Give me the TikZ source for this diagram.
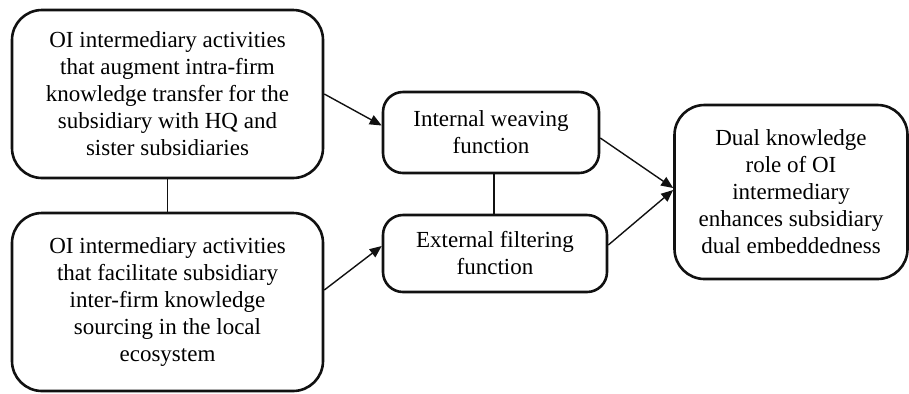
\documentclass[tikz,border=0pt]{standalone}
\usepackage{fontspec}
\setmainfont{Liberation Serif}
\usetikzlibrary{arrows.meta,positioning,calc}
\definecolor{edge}{HTML}{111111}

\begin{document}
\begin{tikzpicture}[x=0.5pt,y=-0.5pt,
    box/.style={draw=edge,line width=1.3pt,rounded corners=15pt,align=center,
      font=\fontsize{11.5pt}{13.5pt}\selectfont,inner sep=0pt},
    link/.style={edge,line width=0.7pt,-{Triangle[length=6pt,width=5pt]}}]
  \useasboundingbox (0,0) rectangle (909,393);

  % Activity boxes
  \node[box,minimum width=155.5pt,minimum height=84pt] (augment) at (167.5,94)
    {OI intermediary activities\\that augment intra-firm\\knowledge transfer for the\\subsidiary with HQ and\\sister subsidiaries};
  \node[box,minimum width=155.5pt,minimum height=89pt] (facilitate) at (167.5,302)
    {OI intermediary activities\\that facilitate subsidiary\\inter-firm knowledge\\sourcing in the local\\ecosystem};

  % Functions
  \node[box,rounded corners=10pt,minimum width=108pt,minimum height=40.5pt] (weaving) at (491,132.5)
    {Internal weaving\\function};
  \node[box,rounded corners=10pt,minimum width=112pt,minimum height=38.5pt] (filtering) at (495,253.5)
    {External filtering\\function};

  % Outcome
  \node[box,minimum width=116.5pt,minimum height=87pt] (dual) at (791,192)
    {Dual knowledge\\role of OI\\intermediary\\enhances subsidiary\\dual embeddedness};

  % Connections
  \draw[edge,line width=0.9pt] (augment.south) -- (facilitate.north);
  \draw[edge,line width=0.9pt] ([xshift=1.5pt]weaving.south) -- ([xshift=1.5pt]weaving.south |- filtering.north);
  \draw[link] (augment.east) -- ([yshift=3.5pt]weaving.west);
  \draw[link] ([yshift=6pt]facilitate.east) -- ([yshift=3.75pt]filtering.west);
  \draw[link] ([yshift=-2.75pt]weaving.east) -- ([yshift=2pt]dual.west);
  \draw[link] ([yshift=4.25pt]filtering.east) -- ([yshift=1pt]dual.west);
\end{tikzpicture}
\end{document}
